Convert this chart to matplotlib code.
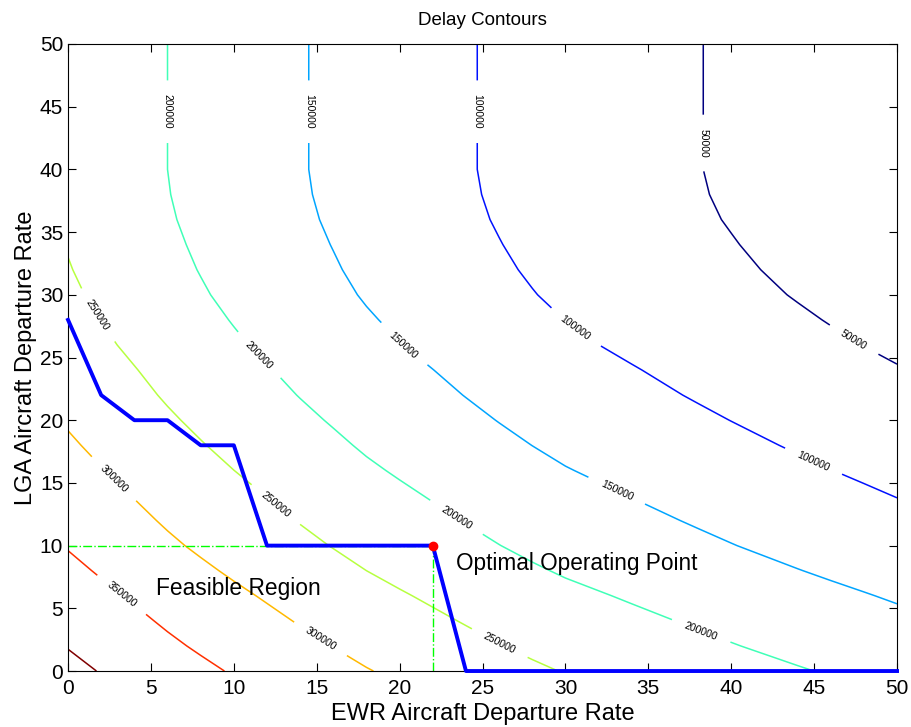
import numpy as np
import matplotlib
matplotlib.use("Agg")
from matplotlib import pyplot as plt

plt.rcParams['font.family'] = ['Liberation Sans', 'DejaVu Sans']

# grid of departure rates (x = EWR, y = LGA)
ewr_rate = np.arange(0, 51, 2)
lga_rate = np.arange(0, 51, 2)

# delay along LGA = 0 (thousands)
ewr_delay = [412, 398, 384.5, 371, 358.6, 346.6, 335.2, 323.8, 313, 302,
             292.5, 283.3, 274.1, 265, 256.3, 248.2, 241.6, 235, 228.5, 222,
             215.6, 209.3, 203, 196.9, 191, 185]
# change in delay with the LGA rate (thousands)
lga_delta = [0, -13.8, -26.5, -39, -52, -64.5, -75.5, -86, -96.5, -106.5,
             -116, -125, -133, -141.5, -148.5, -155, -160, -164, -167.5, -169.8,
             -171, -171, -171, -171, -171, -171]

levels = [50000, 100000, 150000, 200000, 250000, 300000, 350000, 400000]

# feasible region boundary
bound_x = [0, 2, 4, 6, 8, 10, 12, 22, 24, 50]
bound_y = [28, 22, 20, 20, 18, 18, 10, 10, 0, 0]
opt_x, opt_y = 22, 10

X, Y = np.meshgrid(ewr_rate, lga_rate)
Z = (np.array(ewr_delay)[None, :] + np.array(lga_delta)[:, None]) * 1000

fig = plt.figure(figsize=(9.12, 7.27), dpi=100)
ax = fig.add_axes([0.0746, 0.077, 0.909, 0.8625])

cs = ax.contour(X, Y, Z, levels=levels, cmap='jet', vmin=50000, vmax=400000,
                linewidths=1.1)
label_pos = [(6.1, 44.6), (11.3, 24.9), (23.3, 12.0), (38.1, 2.9),
             (14.5, 44.6), (19.9, 25.5), (32.9, 13.85),
             (24.65, 44.6), (30.3, 26.8), (44.85, 16.4),
             (38.3, 42.1), (47.4, 26.4),
             (1.7, 28.3), (12.3, 12.9), (25.95, 2.0),
             (2.6, 15.1), (15.1, 2.3),
             (3.1, 5.85)]
ax.clabel(cs, fmt='%d', fontsize=7.5, colors='k', inline=True,
          inline_spacing=14, manual=label_pos)

ax.plot([0, opt_x], [opt_y, opt_y], color=(0, 1, 0), lw=1, ls='-.')
ax.plot([opt_x, opt_x], [0, opt_y], color=(0, 1, 0), lw=1, ls='-.')
ax.plot(bound_x, bound_y, color='b', lw=2.8, clip_on=False, zorder=5)
ax.plot(opt_x, opt_y, 'o', color='r', ms=6, zorder=6)

ax.text(5.3, 6.6, 'Feasible Region', fontsize=16.4, va='center')
ax.text(23.4, 8.6, 'Optimal Operating Point', fontsize=16.3, va='center')

ax.set_xlim(0, 50)
ax.set_ylim(0, 50)
ax.set_xticks(np.arange(0, 51, 5))
ax.set_yticks(np.arange(0, 51, 5))
ax.tick_params(direction='in', top=True, right=True, length=6, labelsize=15)
ax.tick_params(axis='x', pad=5.5)
ax.set_title('Delay Contours', fontsize=13.5, pad=13.5)
ax.set_xlabel('EWR Aircraft Departure Rate', fontsize=17, labelpad=4)
ax.set_ylabel('LGA Aircraft Departure Rate', fontsize=17, labelpad=2)

fig.savefig('out.png', dpi=100)
